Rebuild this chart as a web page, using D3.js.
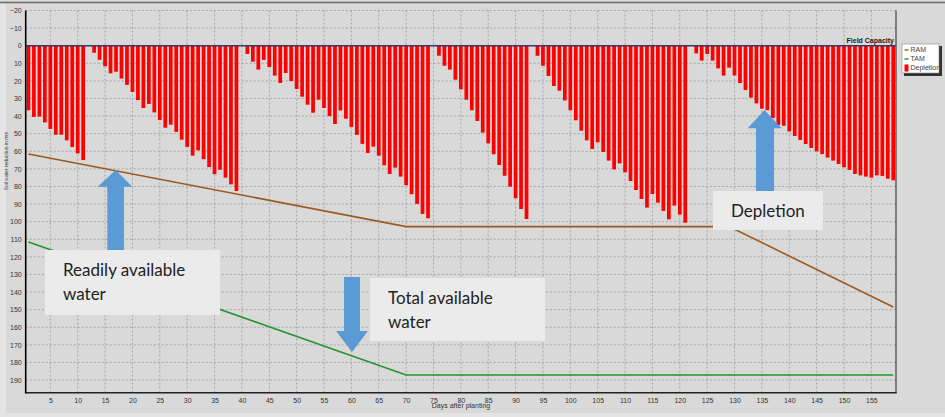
<!DOCTYPE html>
<html>
<head>
<meta charset="utf-8">
<script src="https://cdn.jsdelivr.net/npm/d3@7"></script>
<style>
  body { margin: 0; background: #d9d9d9; }
  svg { display: block; }
</style>
</head>
<body>
<div id="chart"></div>
<script>
/////////////////////// DATA /////////////////////////
// soil water depletion per day (mm below field capacity), days 1..159
let depletion = [
    36.7, 40.5, 40.3, 43.6, 47.3, 50.6, 50.6, 53.8, 57.6, 61.2,
    65.0, 0, 4.0, 8.0, 11.7, 15.7, 14.8, 18.7, 22.3, 26.3,
    30.9, 35.4, 33.1, 37.9, 42.2, 46.6, 44.9, 49.0, 53.4, 57.5,
    62.5, 59.5, 64.5, 69.0, 73.0, 70.5, 75.0, 78.8, 82.6, 0,
    4.7, 9.1, 13.6, 8.1, 12.1, 17.0, 21.2, 15.5, 20.1, 24.6,
    29.0, 33.5, 38.1, 30.7, 35.4, 40.0, 44.5, 36.8, 41.5, 46.2,
    50.7, 55.8, 61.0, 57.4, 62.5, 68.0, 72.9, 69.3, 74.4, 79.3,
    84.4, 89.9, 95.6, 98.1, 0, 5.7, 11.4, 13.6, 19.3, 24.8,
    30.7, 36.7, 42.8, 49.4, 55.5, 61.7, 67.8, 73.9, 80.1, 86.7,
    92.8, 98.5, 0, 5.7, 11.4, 17.2, 22.9, 25.6, 31.1, 36.7,
    42.4, 48.3, 53.8, 58.7, 54.9, 60.4, 65.3, 70.3, 66.9, 72.0,
    76.9, 82.0, 87.1, 92.0, 84.3, 89.2, 93.9, 98.7, 90.9, 96.0,
    100.6, 0, 4.4, 8.5, 4.7, 8.5, 12.9, 17.0, 12.5, 16.9,
    21.2, 25.2, 29.5, 32.8, 35.8, 36.6, 41.1, 45.1, 45.5, 48.7,
    51.3, 53.6, 55.9, 58.1, 60.0, 61.6, 63.6, 65.3, 67.2, 69.1,
    70.6, 72.9, 73.7, 74.4, 75.0, 73.7, 74.0, 75.6, 76.5
];
let days = depletion.map((v, i) => i + 1);

// readily / total available water, break points [day, mm]
let ram = [[1, 61.5], [70, 102.8], [129, 102.8], [159, 148.5]];
let tam = [[1, 111.5], [70, 187.1], [159, 187.1]];

let x_ticks = d3.range(5, 156, 5);
let y_ticks = d3.range(-20, 191, 10);

let legend_items = [
    {name: "RAM", color: "#9c5a1e", kind: "line"},
    {name: "TAM", color: "#22962a", kind: "line"},
    {name: "Depletion", color: "#ff0000", kind: "rect"}
];

/////////////////////// CHART /////////////////////////
let W = 945, H = 417;
let margin = {left: 25.7, right: 896, top: 10.5, bottom: 392.7};

let svg = d3.select("#chart")
    .append("svg")
    .attr("width", W)
    .attr("height", H);

svg.append("rect").attr("width", W).attr("height", H).attr("fill", "#d9d9d9");
// lighter strips at the window edges
svg.append("rect").attr("x", 0).attr("y", 3).attr("width", 6).attr("height", H).attr("fill", "#e4e4e4");
svg.append("rect").attr("x", 0).attr("y", 413).attr("width", W).attr("height", 4).attr("fill", "#e4e4e4");
svg.append("line").attr("x1", 0).attr("x2", W).attr("y1", 2.5).attr("y2", 2.5)
    .attr("stroke", "#6b6b6b").attr("stroke-width", 1.5);

let x_scale = d3.scaleLinear().domain([0.5, 159.5]).range([margin.left, margin.right]);
let y_scale = d3.scaleLinear().domain([-20, 197.2]).range([margin.top, margin.bottom]);

// grid
svg.append("g")
    .selectAll("line")
    .data(x_ticks)
    .enter()
    .append("line")
    .attr("x1", d => x_scale(d)).attr("x2", d => x_scale(d))
    .attr("y1", margin.top).attr("y2", margin.bottom)
    .attr("stroke", "#a6a6a6").attr("stroke-dasharray", "2,2");

svg.append("g")
    .selectAll("line")
    .data(y_ticks.filter(d => d != 0))
    .enter()
    .append("line")
    .attr("x1", margin.left).attr("x2", margin.right)
    .attr("y1", d => y_scale(d)).attr("y2", d => y_scale(d))
    .attr("stroke", "#a6a6a6").attr("stroke-dasharray", "2,2");

// bars
let bw = (x_scale(1) - x_scale(0)) * 0.68;
svg.append("g")
    .selectAll("rect")
    .data(days.filter(d => depletion[d - 1] > 0))
    .enter()
    .append("rect")
    .attr("x", d => x_scale(d) - bw / 2)
    .attr("y", y_scale(0))
    .attr("width", bw)
    .attr("height", d => y_scale(depletion[d - 1]) - y_scale(0))
    .attr("fill", "#ff0000");

// field capacity line
svg.append("line")
    .attr("x1", margin.left).attr("x2", margin.right)
    .attr("y1", y_scale(0)).attr("y2", y_scale(0))
    .attr("stroke", "#3d3467").attr("stroke-width", 1.6);

svg.append("text")
    .attr("x", margin.right - 2).attr("y", y_scale(0) - 2.5)
    .attr("text-anchor", "end")
    .style("font", "bold 7px 'Liberation Sans', sans-serif")
    .style("fill", "#222")
    .text("Field Capacity");

// RAM / TAM lines
let line = d3.line().x(d => x_scale(d[0])).y(d => y_scale(d[1]));
svg.append("path").datum(ram).attr("d", line)
    .attr("fill", "none").attr("stroke", legend_items[0].color).attr("stroke-width", 1.6);
svg.append("path").datum(tam).attr("d", line)
    .attr("fill", "none").attr("stroke", legend_items[1].color).attr("stroke-width", 1.6);

// axes
let x_axis = svg.append("g")
    .attr("transform", "translate(0," + margin.bottom + ")")
    .call(d3.axisBottom(x_scale).tickValues(x_ticks).tickSize(0).tickPadding(5));
x_axis.select(".domain").remove();
x_axis.selectAll("text")
    .style("font", "7px 'Liberation Sans', sans-serif").style("fill", "#333");

let y_axis = svg.append("g")
    .attr("transform", "translate(" + margin.left + ",0)")
    .call(d3.axisLeft(y_scale).tickValues(y_ticks).tickSize(0).tickPadding(4));
y_axis.select(".domain").remove();
y_axis.selectAll("text")
    .style("font", "7px 'Liberation Sans', sans-serif").style("fill", "#333");

svg.append("line").attr("x1", margin.right).attr("x2", margin.right)
    .attr("y1", margin.top).attr("y2", margin.bottom)
    .attr("stroke", "#555").attr("stroke-width", 1.4);
svg.append("line").attr("x1", margin.left).attr("x2", margin.left)
    .attr("y1", margin.top).attr("y2", margin.bottom + 0.7)
    .attr("stroke", "#000").attr("stroke-width", 1.6);
svg.append("line").attr("x1", margin.left).attr("x2", margin.right + 0.7)
    .attr("y1", margin.bottom).attr("y2", margin.bottom)
    .attr("stroke", "#222").attr("stroke-width", 1.6);

svg.append("text")
    .attr("x", 461).attr("y", 408)
    .attr("text-anchor", "middle")
    .style("font", "7px 'Liberation Sans', sans-serif").style("fill", "#333")
    .text("Days after planting");

svg.append("text")
    .attr("transform", "translate(8,161) rotate(-90)")
    .attr("text-anchor", "middle")
    .style("font", "5px 'Liberation Sans', sans-serif").style("fill", "#444")
    .text("Soil water reduction in mm");

// legend
let lg = svg.append("g").attr("transform", "translate(902,44)");
lg.append("rect").attr("x", 2).attr("y", 2).attr("width", 38).attr("height", 30).attr("fill", "#333");
lg.append("rect").attr("width", 37).attr("height", 29).attr("fill", "#fff").attr("stroke", "#888").attr("stroke-width", 0.6);
legend_items.forEach((d, i) => {
    let cy = 6 + i * 9;
    if (d.kind == "line") {
        lg.append("line").attr("x1", 2.5).attr("x2", 6.5).attr("y1", cy).attr("y2", cy)
            .attr("stroke", d.color).attr("stroke-width", 1.4);
    } else {
        lg.append("rect").attr("x", 2.5).attr("y", cy - 3.5).attr("width", 4).attr("height", 7).attr("fill", d.color);
    }
    lg.append("text").attr("x", 8.5).attr("y", cy + 2.4)
        .style("font", "7px 'Liberation Sans', sans-serif").style("fill", "#444")
        .text(d.name);
});

// annotations: arrows and boxes
let blue = "#5b9bd5";
let arrows = [
    "M107.3,250 L107.3,186.7 L97.7,186.7 L115.7,170 L132.3,186.7 L124,186.7 L124,250 Z",
    "M344,277 L344,331 L336,331 L352,352 L368,331 L360,331 L360,277 Z",
    "M756,192 L756,128.3 L747.7,128.3 L764.5,110 L781.7,128.3 L774,128.3 L774,192 Z"
];
arrows.forEach(p => svg.append("path").attr("d", p).attr("fill", blue));

let boxes = [
    {x: 45, y: 250, w: 175, h: 65, lines: ["Readily available", "water"]},
    {x: 370, y: 278, w: 175, h: 63, lines: ["Total available", "water"]},
    {x: 713, y: 191, w: 110, h: 39, lines: ["Depletion"]}
];
boxes.forEach(b => {
    svg.append("rect").attr("x", b.x).attr("y", b.y).attr("width", b.w).attr("height", b.h)
        .attr("fill", "#ebebeb");
    b.lines.forEach((t, i) => {
        svg.append("text")
            .attr("x", b.x + 18).attr("y", b.y + 26 + i * 24)
            .style("font", "17px Lato, sans-serif").style("fill", "#222")
            .text(t);
    });
});
</script>
</body>
</html>
